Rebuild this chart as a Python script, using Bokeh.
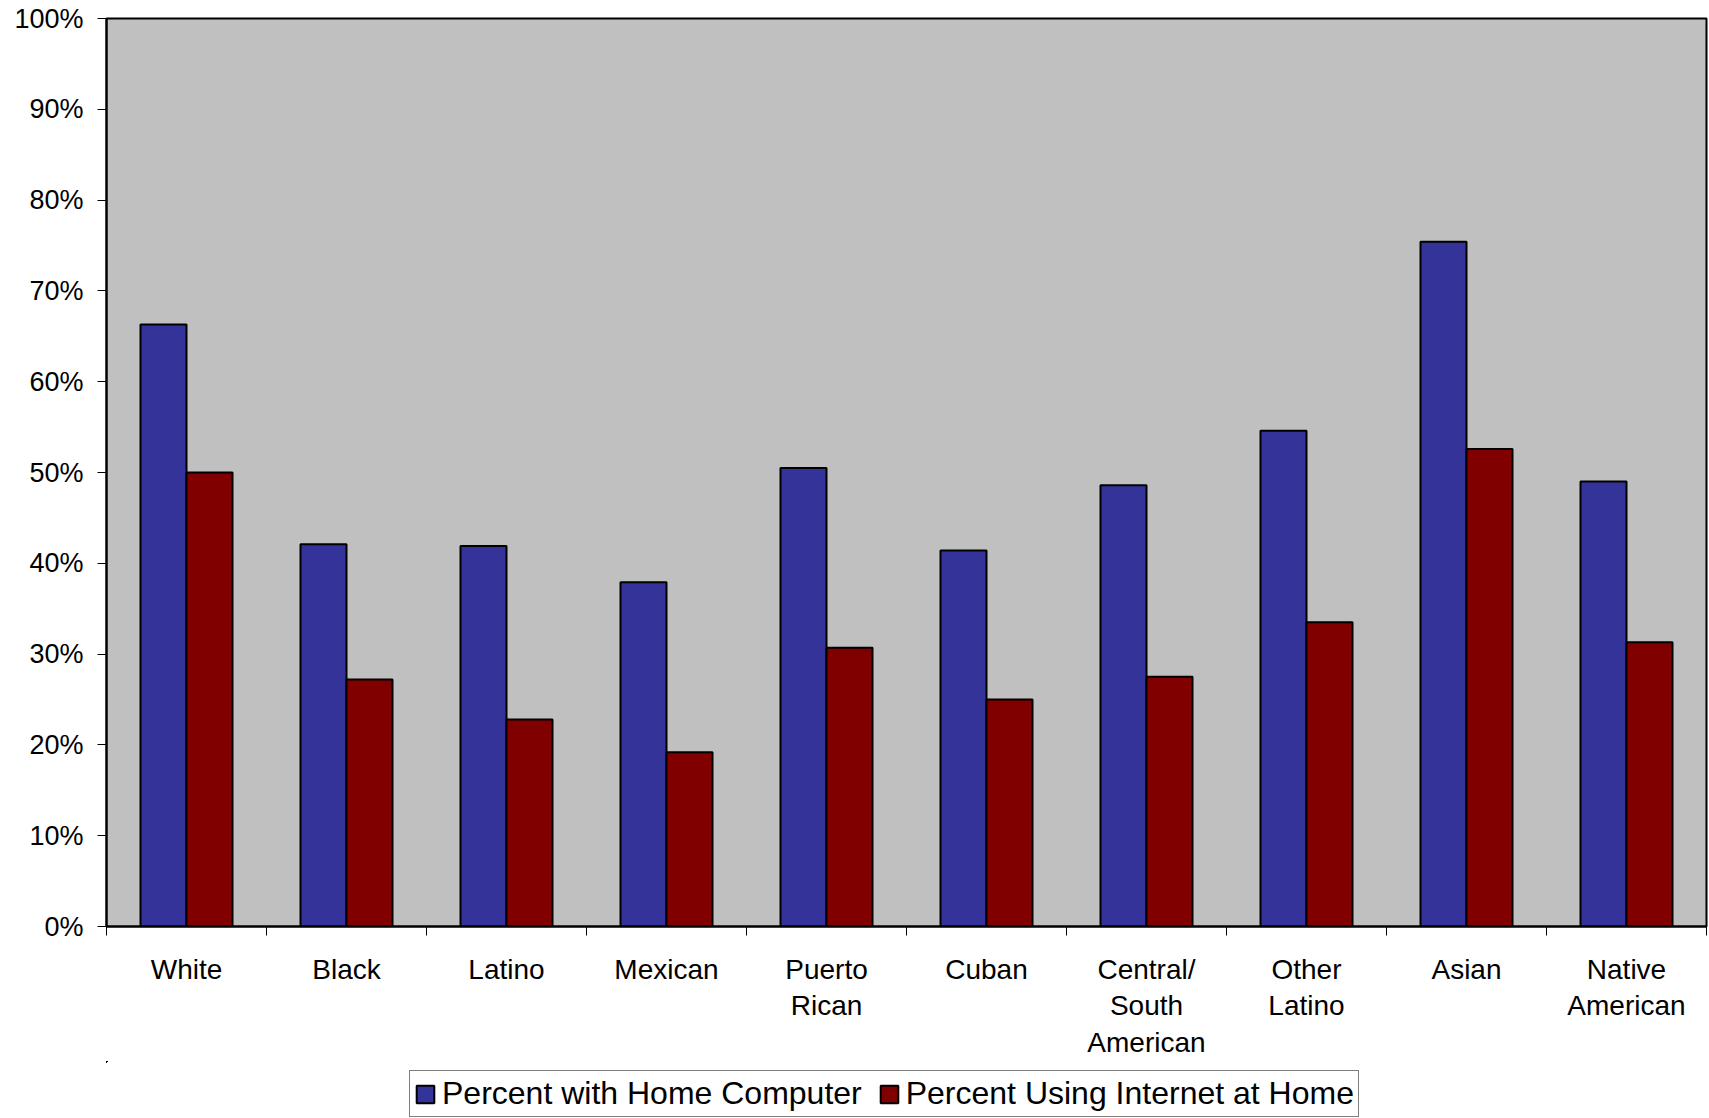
import numpy as np
from bokeh.plotting import figure
from bokeh.layouts import column
from bokeh.models import (ColumnDataSource, Range1d, FixedTicker, PrintfTickFormatter,
                          Legend, LegendItem)
from bokeh.embed import file_html
from bokeh.resources import INLINE

categories = ["White", "Black", "Latino", "Mexican", "Puerto\nRican", "Cuban",
              "Central/\nSouth\nAmerican", "Other\nLatino", "Asian", "Native\nAmerican"]
home_computer = [66.3, 42.1, 41.9, 37.9, 50.5, 41.4, 48.6, 54.6, 75.4, 49.0]
internet_home = [50.0, 27.2, 22.8, 19.2, 30.7, 25.0, 27.5, 33.5, 52.6, 31.3]
series_names = ["Percent with Home Computer", "Percent Using Internet at Home"]
series_colors = ["#333399", "#800000"]
y_ticks = list(range(0, 101, 10))

FONT = "Liberation Sans"
n = len(categories)
centers = np.arange(n) + 0.5
bw = 0.2875

src = ColumnDataSource(dict(
    xc=centers - bw / 2, xi=centers + bw / 2,
    comp=home_computer, inet=internet_home,
))

p = figure(frame_width=1600, frame_height=908, output_backend="svg", toolbar_location=None,
           x_range=Range1d(0, n), y_range=Range1d(0, 100),
           min_border_left=106, min_border_top=18, min_border_right=2, min_border_bottom=0,
           background_fill_color="#C0C0C0", border_fill_color="white")
p.outline_line_color = "black"
p.outline_line_width = 2
p.xgrid.visible = False
p.ygrid.visible = False

p.vbar(x="xc", top="comp", width=bw, bottom=0, source=src,
       fill_color=series_colors[0], line_color="black", line_width=2)
p.vbar(x="xi", top="inet", width=bw, bottom=0, source=src,
       fill_color=series_colors[1], line_color="black", line_width=2)

# y axis
ya = p.yaxis[0]
ya.ticker = FixedTicker(ticks=y_ticks)
ya.formatter = PrintfTickFormatter(format="%d%%")
ya.axis_line_color = "black"
ya.axis_line_width = 2
ya.major_tick_line_color = "black"
ya.major_tick_out = 9
ya.major_tick_in = 0
ya.minor_tick_line_color = None
ya.major_label_text_font = FONT
ya.major_label_text_font_size = "27px"
ya.major_label_text_color = "black"
ya.major_label_standoff = 14

# x axis
xa = p.xaxis[0]
xa.axis_label = None
xa.ticker = FixedTicker(ticks=list(centers), minor_ticks=list(range(0, n + 1)))
xa.major_label_overrides = {float(c): lab for c, lab in zip(centers, categories)}
xa.axis_line_color = "black"
xa.axis_line_width = 2
xa.major_tick_line_color = None
xa.major_tick_out = 0
xa.major_tick_in = 0
xa.minor_tick_line_color = "black"
xa.minor_tick_out = 9
xa.minor_tick_in = 0
xa.major_label_text_font = FONT
xa.major_label_text_font_size = "28px"
xa.major_label_text_color = "black"
xa.major_label_text_line_height = 1.19
xa.major_label_standoff = 18

# legend strip below the chart (its bars lie far outside its view; only the legend shows)
pl = figure(width=1708, height=57, output_backend="svg", toolbar_location=None,
            x_range=Range1d(1000, 1001), y_range=Range1d(-300, -200),
            x_axis_type=None, y_axis_type=None, min_border=0,
            background_fill_color="white", border_fill_color="white")
pl.outline_line_color = None
pl.xgrid.visible = False
pl.ygrid.visible = False
lr = [pl.vbar(x=xcol, top=ycol, width=bw, bottom=0, source=src,
              fill_color=c, line_color="black", line_width=2)
      for xcol, ycol, c in zip(["xc", "xi"], ["comp", "inet"], series_colors)]

legend = Legend(items=[LegendItem(label=nm, renderers=[r]) for nm, r in zip(series_names, lr)],
                orientation="horizontal", location=(303, 1),
                label_text_font=FONT, label_text_font_size="32px",
                label_text_color="black",
                glyph_width=22, glyph_height=22, label_standoff=6,
                spacing=16, padding=4, margin=0,
                border_line_color="black", border_line_width=1,
                background_fill_color="white", background_fill_alpha=1.0)
pl.add_layout(legend, "center")

layout = column(p, pl, spacing=0)
open("out.html", "w").write(file_html(layout, INLINE))
